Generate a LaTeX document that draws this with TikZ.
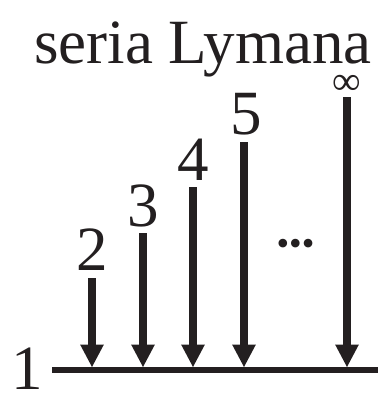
\documentclass[tikz,border=0pt]{standalone}
\usepackage{fontspec}
\setmainfont{Liberation Serif}
\usetikzlibrary{arrows.meta}
\definecolor{ink}{HTML}{231F20}
\begin{document}
\begin{tikzpicture}[x=1pt,y=-1pt,
  lbl/.style={inner sep=0pt,anchor=base,text=ink,font=\fontsize{63}{63}\selectfont},
  trans/.style={draw=ink,line width=7.5pt,-{Triangle[length=23pt,width=22pt]},shorten >=0pt}]
\useasboundingbox (0,0) rectangle (378,394);
\node[inner sep=0pt,anchor=base west,text=ink,text depth=0pt,font=\fontsize{63}{63}\selectfont] (title) at (34,63) {seria Lymana};
\node[lbl,text depth=0pt] (n1) at (27,389) {1};
\node[lbl] (n2) at (92,270) {2};
\node[lbl] (n3) at (143,226) {3};
\node[lbl] (n4) at (193,180) {4};
\node[lbl] (n5) at (246,134) {5};
\node[inner sep=0pt,anchor=base,text=ink,font=\fontsize{40}{40}\selectfont] (ninf) at (347,94) {∞};
\node[inner sep=0pt,anchor=center,text=ink,font=\fontsize{36}{36}\selectfont] (dots) at (295.5,247) {•••};
\coordinate (L) at (52,370);
\coordinate (R) at (378,370);
\draw[draw=ink,line width=5.5pt] (L) -- (R);
\coordinate (t2) at (92,278); \coordinate (b2) at (92,367.5);
\coordinate (t3) at (143,233); \coordinate (b3) at (143,367.5);
\coordinate (t4) at (193,187); \coordinate (b4) at (193,367.5);
\coordinate (t5) at (244,142); \coordinate (b5) at (244,367.5);
\coordinate (ti) at (347,97); \coordinate (bi) at (347,367.5);
\draw[trans] (t2) -- (b2);
\draw[trans] (t3) -- (b3);
\draw[trans] (t4) -- (b4);
\draw[trans] (t5) -- (b5);
\draw[trans] (ti) -- (bi);
\end{tikzpicture}
\end{document}
